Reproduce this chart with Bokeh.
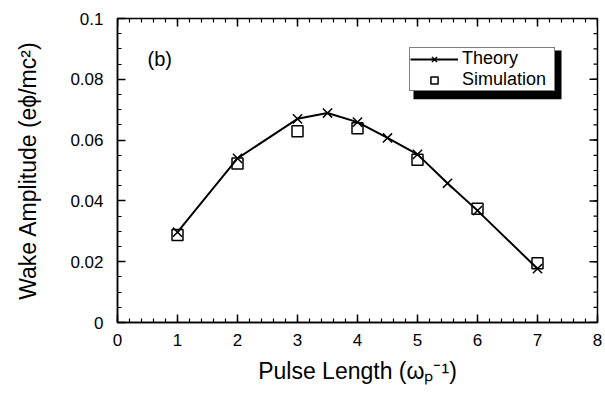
from bokeh.plotting import figure
from bokeh.models import (Range1d, Legend, LegendItem, Label,
                          BoxAnnotation, FixedTicker)
from bokeh.embed import file_html
from bokeh.resources import INLINE

# ---- data ----
theory_x = [1, 2, 3, 3.5, 4, 4.5, 5, 5.5, 6, 7]
theory_y = [0.0297, 0.0540, 0.0670, 0.0689, 0.0659, 0.0607, 0.0553, 0.0458, 0.0368, 0.0177]
sim_x = [1, 2, 3, 4, 5, 6, 7]
sim_y = [0.0288, 0.0523, 0.0629, 0.0639, 0.0535, 0.0374, 0.0195]
x_ticks = [0, 1, 2, 3, 4, 5, 6, 7, 8]
y_ticks = [0, 0.02, 0.04, 0.06, 0.08, 0.1]
y_tick_labels = {0: "0", 0.02: "0.02", 0.04: "0.04", 0.06: "0.06", 0.08: "0.08", 0.1: "0.1"}
x_minor = [i * 0.2 for i in range(41)]
y_minor = [i * 0.005 for i in range(21)]

FONT = "Liberation Sans"
X0, X1, Y0, Y1 = 0, 8, 0, 0.1
FRAME_W, FRAME_H = 480, 304

p = figure(width=605, height=399, output_backend="svg", toolbar_location=None,
           x_range=Range1d(X0, X1), y_range=Range1d(Y0, Y1),
           min_border_left=117, min_border_right=8, min_border_top=18,
           min_border_bottom=77, background_fill_color="white",
           border_fill_color="white")
p.grid.visible = False
p.outline_line_color = "black"
p.outline_line_width = 1.5

xt = FixedTicker(ticks=x_ticks, minor_ticks=x_minor)
yt = FixedTicker(ticks=y_ticks, minor_ticks=y_minor)
p.xaxis.ticker = xt
p.yaxis.ticker = yt
p.yaxis.major_label_overrides = y_tick_labels

for ax in p.xaxis + p.yaxis:
    ax.axis_line_color = "black"
    ax.axis_line_width = 1.5
    ax.major_tick_in = 8
    ax.major_tick_out = 0
    ax.minor_tick_in = 4
    ax.minor_tick_out = 0
    ax.major_tick_line_color = "black"
    ax.minor_tick_line_color = "black"
    ax.major_tick_line_width = 1.5
    ax.minor_tick_line_width = 1.2
    ax.major_label_text_font = FONT
    ax.major_label_text_color = "black"
    ax.major_label_text_font_size = "17px"
    ax.axis_label_text_font = FONT
    ax.axis_label_text_font_style = "normal"
    ax.axis_label_text_color = "black"
    ax.axis_label_text_font_size = "23px"

p.xaxis.major_label_standoff = 11
p.yaxis.major_label_standoff = 14
p.xaxis.axis_label = "Pulse Length (\u03c9\u209a\u207b\u00b9)"
p.yaxis.axis_label = "Wake Amplitude (e\u03d5/mc\u00b2)"
p.xaxis.axis_label_standoff = 9
p.yaxis.axis_label_standoff = 26

# ---- inward ticks on the top and right edges (mirrors of the axes) ----
dy_major = 8 * (Y1 - Y0) / FRAME_H
dy_minor = 4 * (Y1 - Y0) / FRAME_H
dx_major = 8 * (X1 - X0) / FRAME_W
dx_minor = 4 * (X1 - X0) / FRAME_W
p.segment(x0=x_ticks, y0=[Y1] * len(x_ticks), x1=x_ticks,
          y1=[Y1 - dy_major] * len(x_ticks), line_color="black", line_width=1.5)
p.segment(x0=x_minor, y0=[Y1] * len(x_minor), x1=x_minor,
          y1=[Y1 - dy_minor] * len(x_minor), line_color="black", line_width=1.2)
p.segment(x0=[X1] * len(y_ticks), y0=y_ticks, x1=[X1 - dx_major] * len(y_ticks),
          y1=y_ticks, line_color="black", line_width=1.5)
p.segment(x0=[X1] * len(y_minor), y0=y_minor, x1=[X1 - dx_minor] * len(y_minor),
          y1=y_minor, line_color="black", line_width=1.2)

# ---- data marks ----
line_r = p.line(theory_x, theory_y, line_color="black", line_width=2)
x_r = p.scatter(theory_x, theory_y, marker="x", size=13, line_color="black",
                line_width=1.5)
sq_r = p.scatter(sim_x, sim_y, marker="square", size=11, line_color="black",
                 fill_color="white", fill_alpha=0, line_width=1.5)

# ---- panel label ----
p.add_layout(Label(x=0.5, y=0.0868, text="(b)", text_font=FONT,
                   text_font_size="20px", text_baseline="middle",
                   text_color="black"))

# ---- legend with drop shadow ----
shadow = BoxAnnotation(left=4.933, right=7.40, top=0.0895, bottom=0.0734,
                       fill_color="black", fill_alpha=1, line_alpha=0,
                       level="annotation")
p.add_layout(shadow)

legend = Legend(items=[LegendItem(label="Theory", renderers=[line_r, x_r]),
                       LegendItem(label="Simulation", renderers=[sq_r])],
                location=(292, 231), orientation="vertical",
                label_text_font=FONT, label_text_font_size="18px",
                label_text_color="black", label_standoff=4,
                label_text_line_height=1.0,
                glyph_width=48, glyph_height=18, label_height=18,
                label_width=92, spacing=0, padding=0, margin=0,
                border_line_color="black", border_line_width=1.5,
                background_fill_color="white", background_fill_alpha=1)
p.add_layout(legend)

open("out.html", "w").write(file_html(p, INLINE))
